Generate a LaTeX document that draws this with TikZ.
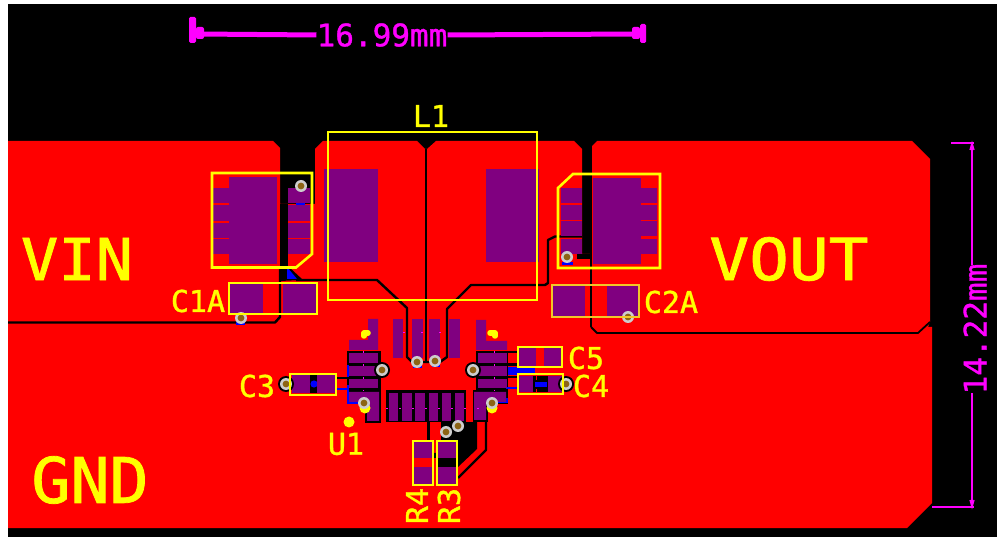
\documentclass[tikz,border=0pt]{standalone}
\usepackage{graphicx}
\usepackage{fontspec}
\setmonofont{DejaVu Sans Mono}
\newfontfamily\pcbfont[FakeBold=1.2]{DejaVu Sans Mono}
\definecolor{cu}{RGB}{255,0,0}
\definecolor{pad}{RGB}{128,0,128}
\definecolor{silk}{RGB}{255,255,0}
\definecolor{silkb}{RGB}{240,200,40}
\definecolor{dim}{RGB}{255,0,255}
\definecolor{bot}{RGB}{0,0,255}
\definecolor{viaring}{RGB}{205,205,205}
\definecolor{viahole}{RGB}{140,100,20}
\tikzset{
 x=1pt,y=-1pt,
 padr/.style={fill=pad,draw=none},
 gap/.style={draw=black,line width=2.4pt,line join=round},
 gapthin/.style={draw=black,line width=1.8pt,line join=round},
 silkline/.style={draw=silk,line width=1.2pt},
 silkgold/.style={draw=silkb,line width=1.2pt},
 silkthick/.style={draw=silk,line width=2.6pt},
 silkmark/.style={draw=silk,line width=5.5pt,line cap=round,line join=round},
 lab/.style={text=silk,font=\pcbfont\fontsize{30}{30}\selectfont,inner sep=0pt},
 dimlab/.style={text=dim,font=\pcbfont\fontsize{31}{31}\selectfont,inner sep=0pt},
 big/.style={text=silk,font=\pcbfont\fontsize{58}{58}\selectfont,inner sep=0pt},
 dimline/.style={draw=dim,line width=1.3pt},
 tick/.style={draw=dim,line width=1pt},
}
\newcommand{\via}[2]{\fill[viaring] (#1,#2) circle[radius=6pt];\fill[viahole] (#1,#2) circle[radius=3.4pt];}
\newcommand{\viah}[2]{\fill[black] (#1,#2) circle[radius=8pt];\via{#1}{#2}}
\begin{document}
\begin{tikzpicture}
\useasboundingbox (0,0) rectangle (997,537);
\fill[white] (0,0) rectangle (997,537);
\fill[black] (8,4) rectangle (997,537);
% copper outline
\fill[cu] (8,141) -- (273,141) -- (280,148) -- (280,204) -- (315,204) -- (315,149) -- (323,141) -- (417,141) -- (425,149) -- (427,149) -- (436,141) -- (574,141) -- (582,149) -- (582,254) -- (592,254) -- (592,146) -- (597,141) -- (912,141) -- (930,159) -- (930,322) -- (928,327) -- (932,327) -- (932,503) -- (907,528) -- (8,528) -- cycle;
% isolation gaps
\fill[black] (280,204) rectangle (288,267);
\fill[black] (280,267) -- (289,267) -- (303,280) -- (280,281) -- cycle;
\fill[bot] (287,267) -- (297,279) -- (287,279) -- cycle;
\draw[gap] (8,322.5) -- (275,322.5) -- (280,317) -- (280,267);
\draw[gap] (296,280) -- (377,280) -- (407,308) -- (407,357) -- (412,362) -- (440,362) -- (447,357) -- (447,309) -- (471,285) -- (545,285) -- (548,283) -- (548,240) -- (555,236.5) -- (582,236.5);
\draw[gap] (426,149) -- (426,362);
\draw[gap] (591,250) -- (591,327);
\draw[gapthin] (591,327) -- (597,333) -- (918,333) -- (930,322);
\fill[black] (577,254) rectangle (592,259);
% U1 isolation
\fill[black] (347,351) rectangle (381,403);
\fill[black] (365,403) rectangle (381,423);
\fill[black] (476,351) rectangle (508,391);
\fill[black] (473,390) rectangle (508,404);
\fill[black] (473,403) rectangle (488,422);
\fill[black] (386,390) rectangle (466,422);
\fill[black] (441,421) -- (477,421) -- (477,449) -- (458,467) -- (438,467) -- (438,458) -- (431,458) -- (431,453) -- (441,453) -- cycle;
\fill[cu] (466,390) rectangle (473,422);
\draw[gap] (428.5,421) -- (428.5,442);
\draw[gap] (486,421) -- (486,450) -- (458,478);
% traces and bottom-layer copper
\fill[bot] (347,365) rectangle (349,378);
\fill[bot] (347,385) rectangle (349,403);
\fill[bot] (347,402) rectangle (360,404);
\fill[bot] (498,398) rectangle (508,403);
\fill[black] (336,377) rectangle (349,379.5);
\fill[bot] (336,388) rectangle (349,390);
\fill[black] (506,351) rectangle (518,353);
\fill[black] (506,363) rectangle (518,366);
\fill[black] (506,376) rectangle (518,378);
\fill[bot] (506,387) rectangle (518,389);
\fill[bot] (508,367) rectangle (535,375);
\fill[bot] (236,322) rectangle (245,325);
\fill[bot] (296,203) rectangle (305,205);
\fill[bot] (562,262) rectangle (573,265);
\fill[bot] (413,363) rectangle (422,368);
\fill[bot] (432,363) rectangle (440,367);
% C1A
\fill[padr] (229,177) rectangle (277,264);
\foreach \ya/\yb in {188/203,205/221,223/238,239/254}{
 \fill[padr] (213,\ya) rectangle (229,\yb);
 \fill[padr] (288,\ya) rectangle (310,\yb);
}
\fill[padr] (230,284) rectangle (263,313);
\fill[padr] (283,284) rectangle (316,313);
% C2A
\fill[padr] (593,178) rectangle (641,264);
\foreach \ya/\yb in {188/203,205/220,221/236,239/254}{
 \fill[padr] (641,\ya) rectangle (657,\yb);
 \fill[padr] (561,\ya) rectangle (582,\yb);
}
\fill[padr] (553,285) rectangle (585,316);
\fill[padr] (607,285) rectangle (638,316);
% L1
\fill[padr] (324,169) rectangle (378,262);
\fill[padr] (486,169) rectangle (539,262);
% U1 pads
\foreach \xa/\xb in {393/403,412/423,429/440,449/460}{\fill[padr] (\xa,319) rectangle (\xb,358);}
\fill[padr] (368,319) -- (378,319) -- (378,350) -- (349,350) -- (349,340) -- (368,340) -- cycle;
\fill[padr] (476,320) -- (486,320) -- (486,341) -- (507,341) -- (507,350) -- (476,350) -- cycle;
\foreach \ya/\yb in {353/363,366/376,379/388}{
 \fill[padr] (349,\ya) rectangle (378,\yb);
 \fill[padr] (478,\ya) rectangle (507,\yb);
}
\fill[padr] (349,392) -- (379,392) -- (379,421) -- (367,421) -- (367,402) -- (349,402) -- cycle;
\fill[padr] (506,392) -- (474,392) -- (474,420) -- (486,420) -- (486,402) -- (506,402) -- cycle;
\foreach \xa/\xb in {389/398,402/412,415/425,429/438,442/451,455/464}{\fill[padr] (\xa,393) rectangle (\xb,421);}
% pad ticks
\draw[tick,dash pattern=on 2pt off 11pt] (386,408.5) -- (480,408.5);
\draw[tick,dash pattern=on 2pt off 16pt] (403,332.5) -- (450,332.5);
\foreach \yy in {351.5,364.5,377.5,390}{\draw[tick] (363,\yy) -- (363,\yy+1.5);\draw[tick] (494,\yy) -- (494,\yy+1.5);}
% C3
\fill[black] (310,375) rectangle (317,393);
\fill[bot] (314,384) circle[radius=3.6pt];
\fill[padr] (292,375) rectangle (310,393);
\fill[padr] (317,375) rectangle (335,393);
% C5
\fill[padr] (519,348) rectangle (536,366);
\fill[padr] (544,348) rectangle (561,366);
% C4
\fill[black] (533,376) rectangle (548,392);
\fill[bot] (535,382) rectangle (547,387);
\fill[cu] (536,376) rectangle (537,380);
\fill[cu] (536,389) rectangle (537,392);
\fill[padr] (519,376) rectangle (533,392);
\fill[padr] (548,376) rectangle (563,392);
% R3, R4
\fill[black] (433,453) rectangle (438,458);
\fill[padr] (413,442) rectangle (433,458);
\fill[padr] (413,467) rectangle (433,484);
\fill[padr] (438,442) rectangle (456,458);
\fill[padr] (438,467) rectangle (456,484);
% pin-one marks under the vias
\fill[silk] (365,408) circle[radius=5.5pt];
\fill[silk] (492,408) circle[radius=5.5pt];
% vias
\via{301}{186}
\via{241}{318}
\via{567}{257}
\via{628}{317}
\via{417}{362}
\via{435}{361}
\viah{382}{370}
\viah{473}{370}
\via{364}{403}
\via{492}{403}
\via{446}{432}
\via{458}{426}
\viah{566}{384}
\viah{286}{384}
% silk
\fill[silk] (349,422) circle[radius=5.5pt];
\draw[silkmark] (368,333) -- (364,333) -- (364,336);
\draw[silkmark] (490,333) -- (495,333) -- (495,336);
\draw[silkthick] (212,173) -- (312,173) -- (312,254) -- (296,267.5) -- (212,267.5) -- cycle;
\draw[silkthick] (660,174) -- (573,174) -- (558,188) -- (558,268) -- (660,268) -- cycle;
\draw[silkline] (328,132) rectangle (537,300);
\draw[silkline] (229,283) rectangle (317,314);
\draw[silkgold] (552,285) rectangle (639,317);
\draw[silkline] (518,347) rectangle (562,367);
\draw[silkline] (518,374) rectangle (563,394);
\draw[silkline] (290,374) rectangle (336,395);
\draw[silkline] (413,441) rectangle (433,485);
\draw[silkline] (437,441) rectangle (457,485);
% labels
\node[big] (vin) at (77,259) {\scalebox{1.07}[1]{VIN}};
\node[big] (vout) at (789,259) {\scalebox{1.14}[1]{VOUT}};
\node[big,font=\pcbfont\fontsize{63}{63}\selectfont] (gnd) at (90,480) {\scalebox{1.03}[1]{GND}};
\node[lab] (l1) at (431,116) {L1};
\node[lab] (c1a) at (198,301) {C1A};
\node[lab] (c2a) at (671,302) {C2A};
\node[lab] (c3) at (257,386) {C3};
\node[lab] (c4) at (591,386) {C4};
\node[lab] (c5) at (586,358) {C5};
\node[lab] (u1) at (346,444) {U1};
\node[lab,rotate=90] (r4) at (417,506) {R4};
\node[lab,rotate=90] (r3) at (449,506) {R3};
% dimensions
\node[dimlab] (dw) at (382,35) {16.99mm};
\node[dimlab,rotate=90] (dh) at (975,329) {14.22mm};
\coordinate (wl) at (197,34);
\coordinate (wr) at (640,34);
\draw[dim,line width=5pt] (wl) -- (dw.west);
\draw[dim,line width=5pt] (dw.east) -- (wr);
\fill[dim,rounded corners=1.5pt] (189,17) rectangle (196,43);
\fill[dim,rounded corners=1.5pt] (640,24) rectangle (646,43);
\fill[dim,rounded corners=2pt] (196,27) rectangle (204,39);
\fill[dim,rounded corners=2pt] (632,27) rectangle (640,39);
\coordinate (ht) at (972,143);
\coordinate (hb) at (972,507);
\draw[dimline] (ht) -- (972,265);
\draw[dimline] (972,393) -- (hb);
\draw[dimline] (951,143) -- (974,143);
\draw[dimline] (932,507) -- (974,507);
\draw[dimline] (970,150) -- (972,143) -- (974,150);
\draw[dimline] (970,500) -- (972,507) -- (974,500);
\end{tikzpicture}
\end{document}
